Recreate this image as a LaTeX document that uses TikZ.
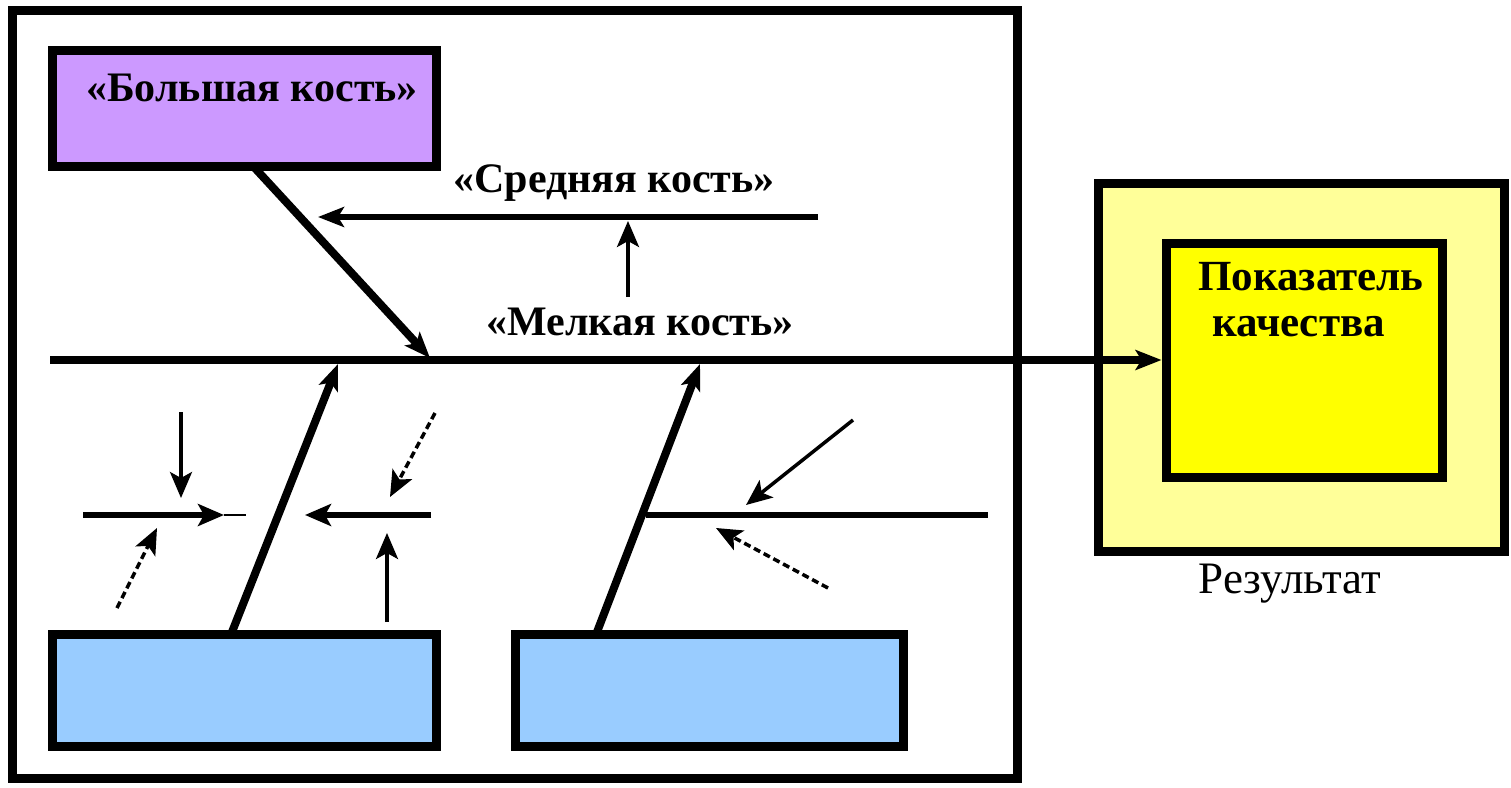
\documentclass[tikz,border=0pt]{standalone}
\usepackage{fontspec}
\setmainfont{Liberation Serif}
\usetikzlibrary{arrows.meta}
\definecolor{bonepurple}{HTML}{CC99FF}
\definecolor{causeblue}{HTML}{99CCFF}
\definecolor{paleyellow}{HTML}{FFFF99}
\definecolor{brightyellow}{HTML}{FFFF00}
\begin{document}
\begin{tikzpicture}[x=1pt,y=-1pt,
  box/.style={draw=black, line width=9pt, inner sep=0pt},
  bone/.style={line width=8pt, line cap=butt},
  twig/.style={line width=6pt},
  fine/.style={line width=3.5pt},
  dashy/.style={line width=3.5pt, dash pattern=on 7pt off 4pt},
  tip/.style={-{Stealth[length=26pt,width=22pt,inset=6pt]}},
  bigtip/.style={-{Stealth[length=26pt,width=20pt,inset=6pt]}},
  lbl/.style={font=\fontsize{42}{46}\selectfont\bfseries, inner sep=0pt},
]
\useasboundingbox (0,0) rectangle (1511,787);

% outer frame of the diagram
\node[box, minimum width=1005pt, minimum height=768pt] (frame) at (515,394) {};

% head of the fish: result
\node[box, fill=paleyellow, minimum width=406pt, minimum height=368pt] (result) at (1301,367) {};
\node[box, fill=brightyellow, minimum width=276pt, minimum height=234pt] (quality) at (1304,360) {};
\node[lbl, font=\fontsize{43}{46}\selectfont\bfseries, anchor=north west] (q1) at (1198,262) {Показатель};
\node[lbl, font=\fontsize{43}{46}\selectfont\bfseries, anchor=north west] (q2) at (1212,316) {качества};
\node[font=\fontsize{45}{48}\selectfont, inner sep=0pt] (res) at (1290,584) {Результат};

% category boxes
\node[box, fill=bonepurple, minimum width=384pt, minimum height=116pt] (big) at (244,108) {};
\node[lbl] (bigtxt) at (252,88) {«Большая кость»};
\node[box, fill=causeblue, minimum width=384pt, minimum height=112pt] (causeA) at (244,690) {};
\node[box, fill=causeblue, minimum width=388pt, minimum height=112pt] (causeB) at (709,690) {};

% spine
\coordinate (spineL) at (50,360);
\draw[bone, bigtip] (spineL) -- (quality.west);

% large bone from the top box to the spine
\coordinate (bigtop) at (253,166);
\coordinate (bigfoot) at (430,358);
\draw[bone, bigtip] (bigtop) -- (bigfoot);

% medium bone
\node[lbl] (midtxt) at (614,183) {«Средняя кость»};
\coordinate (midR) at (818,217);
\coordinate (midL) at (318,217);
\draw[twig, bigtip] (midR) -- (midL);

% small bone
\node[lbl] (smalltxt) at (640,322) {«Мелкая кость»};
\coordinate (smallB) at (628,297);
\coordinate (smallT) at (628,221);
\draw[fine, tip] (smallB) -- (smallT);

% lower bones
\coordinate (boneAfoot) at (232,632);
\coordinate (boneAtop) at (338,364);
\draw[bone, bigtip] (boneAfoot) -- (boneAtop);
\coordinate (boneBfoot) at (597,632);
\coordinate (boneBtop) at (700,364);
\draw[bone, bigtip] (boneBfoot) -- (boneBtop);

% twigs on the left lower bone
\coordinate (t1a) at (83,515);
\coordinate (t1b) at (224,515);
\coordinate (t1c) at (246,515);
\draw[twig, tip] (t1a) -- (t1b);
\draw[line width=2pt] (t1b) -- (t1c);
\coordinate (d1a) at (181,412);
\coordinate (d1b) at (181,498);
\draw[fine, tip] (d1a) -- (d1b);
\coordinate (e1a) at (117,608);
\coordinate (e1b) at (157,528);
\draw[dashy, tip] (e1a) -- (e1b);

\coordinate (t2a) at (431,515);
\coordinate (t2b) at (305,515);
\draw[twig, tip] (t2a) -- (t2b);
\coordinate (d2a) at (435,413);
\coordinate (d2b) at (390,497);
\draw[dashy, tip] (d2a) -- (d2b);
\coordinate (u2a) at (387,622);
\coordinate (u2b) at (387,533);
\draw[fine, tip] (u2a) -- (u2b);

% twigs on the right lower bone
\coordinate (t3a) at (646,515);
\coordinate (t3b) at (988,515);
\draw[twig] (t3a) -- (t3b);
\coordinate (d3a) at (853,420);
\coordinate (d3b) at (746,505);
\draw[fine, tip] (d3a) -- (d3b);
\coordinate (e3a) at (828,588);
\coordinate (e3b) at (716,528);
\draw[dashy, tip] (e3a) -- (e3b);
\end{tikzpicture}
\end{document}
